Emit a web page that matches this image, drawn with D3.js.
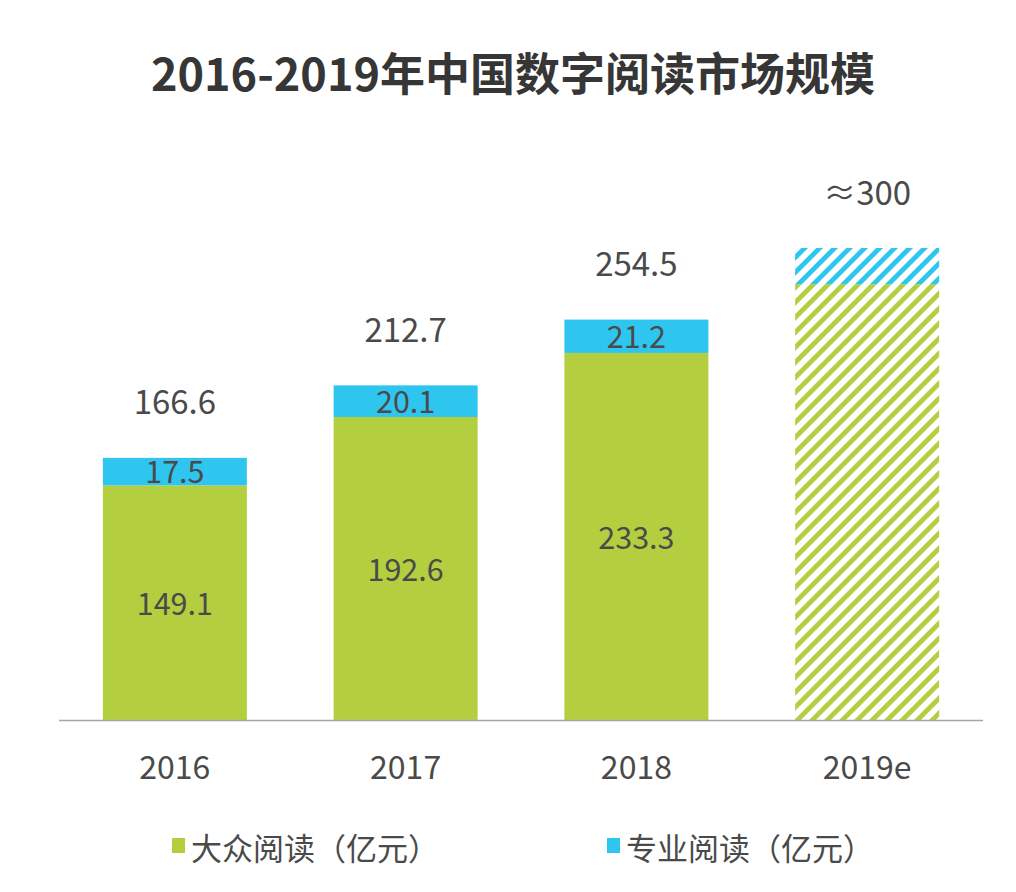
<!DOCTYPE html>
<html><head><meta charset="utf-8">
<script src="https://cdn.jsdelivr.net/npm/d3@7"></script>
<style>body{margin:0;background:#fff;} text{font-family:"Noto Sans CJK SC","Noto Sans",sans-serif;}</style>
</head><body>
<svg id="c" width="1016" height="892"></svg>
<script>
const categories = ["2016","2017","2018","2019e"];
const massValues = [149.1, 192.6, 233.3, 277];
const proValues = [17.5, 20.1, 21.2, 23];
const totalLabels = ["166.6","212.7","254.5","≈300"];
const massLabels = ["149.1","192.6","233.3",""];
const proLabels = ["17.5","20.1","21.2",""];
const estimated = [false,false,false,true];
const seriesNames = ["大众阅读（亿元）","专业阅读（亿元）"];
const title = "2016-2019年中国数字阅读市场规模";

const green = "#b3cf40", blue = "#2ec6ef", textCol = "#4a4a4a";
const svg = d3.select("#c");
const defs = svg.append("defs");
[["hatchG",green],["hatchB",blue]].forEach(([id,col])=>{
  const p = defs.append("pattern").attr("id",id).attr("patternUnits","userSpaceOnUse")
    .attr("width",10.6).attr("height",10.6).attr("patternTransform","rotate(45)");
  p.append("rect").attr("x",0).attr("y",0).attr("width",4.8).attr("height",10.6).attr("fill",col);
});

const x = d3.scaleBand().domain(categories).range([59,983]).paddingInner(0.376).paddingOuter(0.19);
const y = d3.scaleLinear().domain([0,300]).range([720,248]);

svg.append("text").attr("x",513).attr("y",91).attr("text-anchor","middle")
  .attr("font-size",45).attr("font-weight","bold").attr("fill","#363636").text(title);

const g = svg.append("g");
categories.forEach((c,i)=>{
  const bx = x(c), bw = x.bandwidth();
  const m = massValues[i], p = proValues[i];
  g.append("rect").attr("x",bx).attr("width",bw).attr("y",y(m)).attr("height",y(0)-y(m))
    .attr("fill", estimated[i] ? "url(#hatchG)" : green);
  g.append("rect").attr("x",bx).attr("width",bw).attr("y",y(m+p)).attr("height",y(m)-y(m+p))
    .attr("fill", estimated[i] ? "url(#hatchB)" : blue);
  const cx = bx + bw/2;
  if (massLabels[i]) g.append("text").attr("x",cx).attr("y",(y(m)+y(0))/2 + 2).attr("dy","0.35em")
    .attr("text-anchor","middle").attr("font-size",30.5).attr("fill",textCol).text(massLabels[i]);
  if (proLabels[i]) g.append("text").attr("x",cx).attr("y",(y(m)+y(m+p))/2 + 1).attr("dy","0.35em")
    .attr("text-anchor","middle").attr("font-size",30.5).attr("fill",textCol).text(proLabels[i]);
  g.append("text").attr("x",cx).attr("y",y(m+p)-55).attr("dy","0.35em")
    .attr("text-anchor","middle").attr("font-size",33).attr("fill",textCol).text(totalLabels[i]);
});

const axis = svg.append("g").attr("transform","translate(0,720)")
  .call(d3.axisBottom(x).tickSize(0).tickPadding(36));
axis.select(".domain").attr("d","M59,0.5H983").attr("stroke","#a6a6a6").attr("stroke-width",1.5);
axis.selectAll("text").attr("font-size",32).attr("fill",textCol)
  .attr("font-family",'"Noto Sans CJK SC","Noto Sans",sans-serif');

const legend = [[172,green],[607,blue]];
legend.forEach(([lx,col],i)=>{
  svg.append("rect").attr("x",lx).attr("y",838).attr("width",13).attr("height",15).attr("fill",col);
  svg.append("text").attr("x",lx+19).attr("y",849).attr("dy","0.35em").attr("font-size",31)
    .attr("fill",textCol).text(seriesNames[i]);
});
</script>
</body></html>
